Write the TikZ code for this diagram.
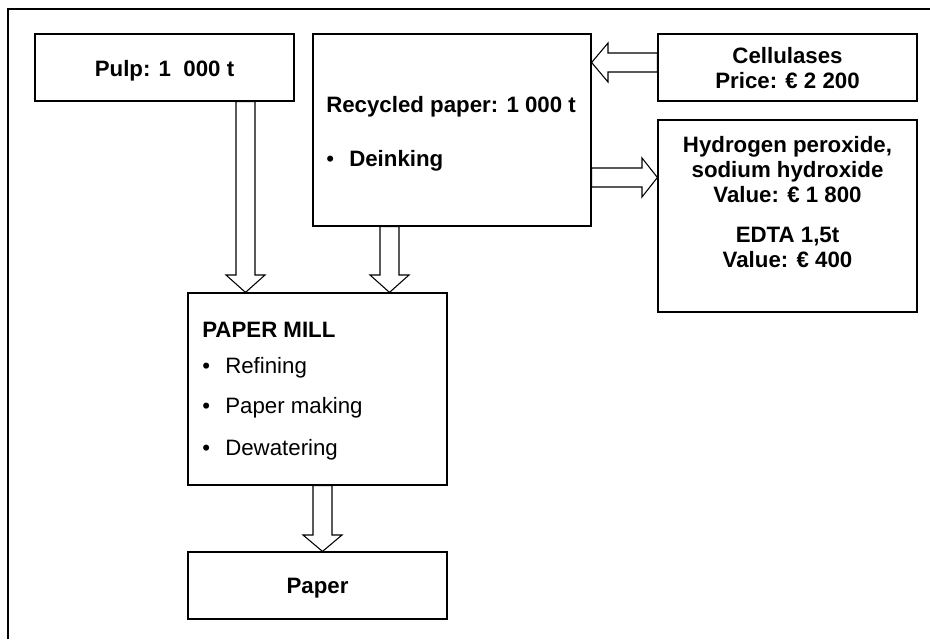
\documentclass[tikz,border=0pt]{standalone}
\usepackage{fontspec}
\setmainfont{Liberation Sans}
\usetikzlibrary{calc}
\begin{document}
\begin{tikzpicture}[x=0.75pt,y=-0.75pt,
  box/.style={draw=black,line width=0.9pt,fill=white,inner sep=0pt},
  blockarrow/.style={draw=black,line width=0.8pt,fill=white,line join=miter},
  txt/.style={inner sep=0pt,font=\fontsize{16.7}{20}\selectfont},
  btxt/.style={inner sep=0pt,font=\fontsize{16.7}{20}\selectfont\bfseries}]
\useasboundingbox (0,0) rectangle (930,639);
\fill[white] (0,0) rectangle (930,639);
% outer frame (only top and left edges visible)
\draw[line width=1.6pt] (8,639) -- (8,9) -- (930,9);
% boxes
\node[box,minimum width=259*0.75pt,minimum height=67*0.75pt] (pulp) at (164.5,67.5) {};
\node[box,minimum width=278*0.75pt,minimum height=192*0.75pt] (recyc) at (452,130) {};
\node[box,minimum width=259*0.75pt,minimum height=67*0.75pt] (cell) at (787.5,67.5) {};
\node[box,minimum width=259*0.75pt,minimum height=192*0.75pt] (hyd) at (787.5,216) {};
\node[box,minimum width=259*0.75pt,minimum height=192*0.75pt] (mill) at (317.5,389) {};
\node[box,minimum width=259*0.75pt,minimum height=67*0.75pt] (paper) at (317.5,585.5) {};
% texts
\node[btxt,anchor=base] (tpulp) at (164.5,76) {Pulp: 1\ \ 000 t};
\node[btxt,anchor=base west] (trec) at (326,112) {Recycled paper: 1 000 t};
\node[txt,anchor=base west] (trb) at (326,166) {•};
\node[btxt,anchor=base west] (trd) at (349,166) {Deinking};
\node[btxt,anchor=base] (tc1) at (787.5,63) {Cellulases};
\node[btxt,anchor=base] (tc2) at (787.5,88) {Price: € 2 200};
\node[btxt,anchor=base] (th1) at (787.5,152) {Hydrogen peroxide,};
\node[btxt,anchor=base] (th2) at (787.5,177) {sodium hydroxide};
\node[btxt,anchor=base] (th3) at (787.5,202) {Value: € 1 800};
\node[btxt,anchor=base] (th4) at (787.5,242) {EDTA 1,5t};
\node[btxt,anchor=base] (th5) at (787.5,267) {Value: € 400};
\node[btxt,anchor=base west] (tm0) at (202,337) {PAPER MILL};
\node[txt,anchor=base west] (tm1b) at (202,373) {•};
\node[txt,anchor=base west] (tm1) at (225,373) {Refining};
\node[txt,anchor=base west] (tm2b) at (202,413) {•};
\node[txt,anchor=base west] (tm2) at (225,413) {Paper making};
\node[txt,anchor=base west] (tm3b) at (202,455) {•};
\node[txt,anchor=base west] (tm3) at (225,455) {Dewatering};
\node[btxt,anchor=base] (tpaper) at (317.5,593) {Paper};
% block arrows (down)
\draw[blockarrow] (236,0 |- pulp.south) -- (255,0 |- pulp.south) -- (255,275) -- (265,275) -- (245.5,0 |- mill.north) -- (226,275) -- (236,275) -- cycle;
\draw[blockarrow] (380,0 |- recyc.south) -- (399,0 |- recyc.south) -- (399,275) -- (409,275) -- (389.5,0 |- mill.north) -- (370,275) -- (380,275) -- cycle;
\draw[blockarrow] (313,0 |- mill.south) -- (332,0 |- mill.south) -- (332,535) -- (342,535) -- (322.5,0 |- paper.north) -- (303,535) -- (313,535) -- cycle;
% block arrows (horizontal)
\draw[blockarrow] (cell.west |- 0,53) -- (608,53) -- (608,43) -- (recyc.east |- 0,62.5) -- (608,82) -- (608,72) -- (cell.west |- 0,72) -- cycle;
\draw[blockarrow] (recyc.east |- 0,168) -- (642,168) -- (642,158) -- (hyd.west |- 0,177.5) -- (642,197) -- (642,187) -- (recyc.east |- 0,187) -- cycle;
\end{tikzpicture}
\end{document}
